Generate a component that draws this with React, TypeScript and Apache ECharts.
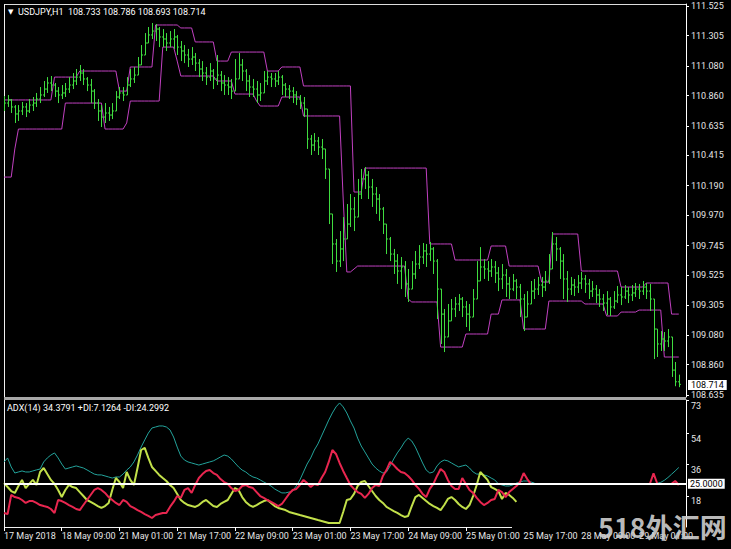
import React, { useEffect, useRef } from "react";
import * as echarts from "echarts";

const _ = null;

const SYMBOL = "USDJPY,H1";
const TIME_LABELS = [
  "17 May 2018", "18 May 09:00", "21 May 01:00", "21 May 17:00", "22 May 09:00", "23 May 01:00",
  "23 May 17:00", "24 May 09:00", "25 May 01:00", "25 May 17:00", "28 May 09:00", "29 May 01:00",
];
const BARS_PER_LABEL = 16;
const SLOTS = 190;
const FIRST_OPEN = 110.78;

const CLOSE = [
  110.804, 110.827, 110.775, 110.723, 110.745, 110.775, 110.745, 110.789, 110.804, 110.834,
  110.864, 110.908, 110.953, 110.938, 110.893, 110.864, 110.879, 110.908, 110.938, 110.968,
  110.997, 111.027, 110.983, 110.938, 110.893, 110.804, 110.745, 110.700, 110.730, 110.715,
  110.745, 110.849, 110.879, 110.864, 110.938, 110.983, 111.012, 111.087, 111.161, 111.250,
  111.310, 111.339, 111.354, 111.295, 111.280, 111.250, 111.280, 111.295, 111.220, 111.191,
  111.161, 111.131, 111.146, 111.101, 111.057, 111.027, 110.997, 111.042, 110.983, 111.012,
  110.953, 110.938, 110.923, 110.893, 110.983, 111.087, 111.042, 110.968, 110.923, 110.908,
  110.864, 110.879, 110.968, 110.997, 110.983, 110.968, 110.997, 110.938, 110.908, 110.893,
  110.864, 110.834, 110.804, 110.760, 110.537, 110.492, 110.522, 110.477, 110.463, 110.314,
  109.980, 109.757, 109.630, 109.720, 109.794, 109.905, 110.017, 109.957, 110.128, 110.240,
  110.269, 110.180, 110.128, 110.091, 110.017, 109.905, 109.794, 109.682, 109.630, 109.556,
  109.586, 109.460, 109.422, 109.534, 109.608, 109.660, 109.705, 109.682, 109.720, 109.630,
  109.422, 109.236, 109.066, 109.185, 109.274, 109.311, 109.348, 109.289, 109.236, 109.214,
  109.348, 109.482, 109.586, 109.571, 109.556, 109.586, 109.541, 109.497, 109.526, 109.460,
  109.422, 109.482, 109.437, 109.348, 109.214, 109.311, 109.407, 109.422, 109.452, 109.437,
  109.482, 109.571, 109.757, 109.720, 109.630, 109.497, 109.422, 109.452, 109.437, 109.467,
  109.497, 109.460, 109.407, 109.422, 109.378, 109.348, 109.318, 109.348, 109.289, 109.333,
  109.378, 109.363, 109.407, 109.378, 109.393, 109.422, 109.407, 109.437, 109.407, 109.348,
  109.125, 109.014, 109.051, 109.036, 109.066, 108.820, 108.733, 108.714,
];
const HIGH = [
  110.856, 110.864, 110.834, 110.789, 110.789, 110.812, 110.804, 110.834, 110.849, 110.879,
  110.923, 110.968, 110.997, 111.005, 110.953, 110.923, 110.938, 110.953, 110.997, 111.027,
  111.057, 111.087, 111.057, 110.997, 110.983, 110.908, 110.834, 110.789, 110.804, 110.775,
  110.804, 110.893, 110.923, 110.923, 110.997, 111.057, 111.072, 111.146, 111.235, 111.324,
  111.369, 111.399, 111.391, 111.369, 111.354, 111.324, 111.339, 111.354, 111.310, 111.265,
  111.235, 111.206, 111.220, 111.176, 111.131, 111.116, 111.072, 111.101, 111.057, 111.161,
  111.042, 111.012, 110.997, 110.983, 111.131, 111.176, 111.131, 111.057, 111.012, 110.983,
  110.968, 110.953, 111.042, 111.042, 111.027, 111.027, 111.042, 111.012, 110.953, 110.938,
  110.923, 110.893, 110.864, 110.849, 110.760, 110.567, 110.581, 110.552, 110.537, 110.463,
  110.314, 109.980, 109.794, 109.853, 109.957, 110.054, 110.128, 110.106, 110.240, 110.314,
  110.329, 110.299, 110.240, 110.180, 110.128, 110.032, 109.905, 109.809, 109.720, 109.682,
  109.660, 109.630, 109.571, 109.630, 109.705, 109.749, 109.764, 109.757, 109.772, 109.734,
  109.645, 109.422, 109.274, 109.311, 109.348, 109.363, 109.385, 109.363, 109.333, 109.311,
  109.422, 109.630, 109.734, 109.645, 109.630, 109.645, 109.630, 109.586, 109.608, 109.571,
  109.512, 109.534, 109.497, 109.460, 109.385, 109.407, 109.482, 109.497, 109.512, 109.512,
  109.556, 109.682, 109.846, 109.809, 109.734, 109.682, 109.556, 109.512, 109.497, 109.526,
  109.549, 109.526, 109.497, 109.482, 109.452, 109.422, 109.385, 109.407, 109.363, 109.407,
  109.445, 109.437, 109.452, 109.437, 109.452, 109.467, 109.460, 109.482, 109.467, 109.460,
  109.348, 109.125, 109.110, 109.103, 109.125, 109.066, 108.880, 108.786,
];
const LOW = [
  110.745, 110.775, 110.730, 110.656, 110.671, 110.715, 110.700, 110.730, 110.745, 110.775,
  110.804, 110.849, 110.879, 110.893, 110.849, 110.804, 110.834, 110.849, 110.879, 110.908,
  110.938, 110.968, 110.938, 110.893, 110.804, 110.760, 110.671, 110.626, 110.656, 110.671,
  110.685, 110.745, 110.834, 110.819, 110.864, 110.923, 110.953, 111.012, 111.087, 111.161,
  111.250, 111.280, 111.265, 111.220, 111.220, 111.191, 111.220, 111.206, 111.161, 111.116,
  111.101, 111.072, 111.087, 111.042, 110.997, 110.968, 110.938, 110.968, 110.908, 110.938,
  110.893, 110.864, 110.864, 110.834, 110.893, 110.983, 110.968, 110.893, 110.849, 110.849,
  110.804, 110.819, 110.879, 110.938, 110.923, 110.923, 110.938, 110.864, 110.849, 110.834,
  110.804, 110.789, 110.760, 110.700, 110.463, 110.418, 110.448, 110.418, 110.388, 110.240,
  109.905, 109.608, 109.549, 109.586, 109.630, 109.794, 109.883, 109.853, 109.957, 110.091,
  110.165, 110.091, 110.032, 109.980, 109.928, 109.831, 109.682, 109.630, 109.534, 109.460,
  109.422, 109.363, 109.326, 109.422, 109.497, 109.571, 109.608, 109.586, 109.630, 109.534,
  109.199, 109.014, 108.954, 109.066, 109.185, 109.214, 109.259, 109.214, 109.140, 109.110,
  109.214, 109.348, 109.482, 109.497, 109.482, 109.512, 109.467, 109.407, 109.422, 109.363,
  109.348, 109.407, 109.348, 109.214, 109.110, 109.214, 109.311, 109.348, 109.378, 109.363,
  109.407, 109.460, 109.571, 109.630, 109.497, 109.348, 109.326, 109.378, 109.370, 109.393,
  109.422, 109.393, 109.348, 109.363, 109.318, 109.289, 109.259, 109.229, 109.222, 109.274,
  109.318, 109.303, 109.348, 109.318, 109.333, 109.363, 109.348, 109.378, 109.348, 109.259,
  108.902, 108.917, 108.962, 108.962, 108.991, 108.769, 108.700, 108.693,
];

const UPPER = [
  110.827, 110.827, 110.827, 110.827, 110.827, 110.827, 110.827, 110.827, 110.827, 110.827,
  110.827, 110.827, 110.827, 110.827, 110.997, 110.997, 110.997, 110.997, 110.997, 110.997,
  110.997, 111.042, 111.042, 111.042, 111.042, 111.042, 111.042, 111.042, 111.042, 111.042,
  111.042, 111.042, 110.893, 110.893, 110.893, 111.072, 111.072, 111.072, 111.072, 111.072,
  111.072, 111.072, 111.384, 111.384, 111.384, 111.384, 111.384, 111.384, 111.384, 111.362,
  111.362, 111.362, 111.362, 111.258, 111.258, 111.258, 111.258, 111.258, 111.258, 111.116,
  111.116, 111.116, 111.116, 111.183, 111.183, 111.183, 111.183, 111.183, 111.183, 111.183,
  111.183, 111.183, 111.183, 111.042, 111.042, 111.042, 111.042, 111.072, 111.072, 111.072,
  111.072, 111.072, 111.072, 110.931, 110.931, 110.931, 110.931, 110.931, 110.931, 110.931,
  110.931, 110.931, 110.931, 110.931, 110.931, 110.931, 110.931, 110.143, 110.143, 110.143,
  110.321, 110.321, 110.321, 110.321, 110.321, 110.321, 110.321, 110.321, 110.321, 110.321,
  110.321, 110.321, 110.321, 110.321, 110.321, 110.321, 110.321, 110.321, 109.757, 109.757,
  109.757, 109.757, 109.757, 109.757, 109.757, 109.638, 109.638, 109.638, 109.638, 109.638,
  109.638, 109.638, 109.638, 109.638, 109.638, 109.742, 109.742, 109.742, 109.742, 109.742,
  109.593, 109.593, 109.593, 109.593, 109.593, 109.593, 109.593, 109.593, 109.593, 109.474,
  109.474, 109.474, 109.831, 109.831, 109.831, 109.831, 109.831, 109.831, 109.831, 109.831,
  109.556, 109.556, 109.556, 109.556, 109.556, 109.556, 109.556, 109.556, 109.556, 109.556,
  109.556, 109.437, 109.437, 109.437, 109.437, 109.437, 109.437, 109.437, 109.467, 109.467,
  109.467, 109.467, 109.467, 109.467, 109.467, 109.236, 109.236, 109.236,
];
const LOWER = [
  110.254, 110.254, 110.254, 110.463, 110.611, 110.611, 110.611, 110.611, 110.611, 110.611,
  110.611, 110.611, 110.611, 110.611, 110.611, 110.611, 110.611, 110.804, 110.804, 110.804,
  110.804, 110.804, 110.804, 110.804, 110.804, 110.804, 110.804, 110.804, 110.611, 110.611,
  110.611, 110.611, 110.611, 110.611, 110.656, 110.819, 110.819, 110.819, 110.819, 110.819,
  110.819, 110.819, 110.819, 110.819, 111.220, 111.220, 111.220, 111.220, 111.116, 111.005,
  111.005, 111.005, 111.005, 111.005, 111.005, 111.005, 111.005, 111.005, 111.005, 110.968,
  110.968, 110.968, 110.968, 110.968, 110.871, 110.871, 110.871, 110.871, 110.871, 110.871,
  110.819, 110.782, 110.782, 110.782, 110.782, 110.782, 110.782, 110.849, 110.849, 110.849,
  110.849, 110.849, 110.849, 110.708, 110.708, 110.708, 110.708, 110.708, 110.708, 110.708,
  110.708, 110.708, 110.708, 110.708, 110.091, 109.549, 109.549, 109.571, 109.593, 109.593,
  109.593, 109.593, 109.593, 109.593, 109.593, 109.593, 109.593, 109.593, 109.593, 109.593,
  109.593, 109.593, 109.348, 109.326, 109.326, 109.326, 109.326, 109.326, 109.326, 109.326,
  109.326, 108.991, 108.991, 108.991, 108.991, 108.991, 108.991, 108.991, 109.088, 109.088,
  109.088, 109.088, 109.088, 109.088, 109.088, 109.236, 109.236, 109.236, 109.341, 109.341,
  109.341, 109.341, 109.341, 109.341, 109.125, 109.125, 109.125, 109.125, 109.125, 109.125,
  109.125, 109.333, 109.333, 109.333, 109.333, 109.333, 109.333, 109.333, 109.333, 109.333,
  109.333, 109.311, 109.311, 109.311, 109.311, 109.311, 109.311, 109.222, 109.222, 109.222,
  109.222, 109.251, 109.251, 109.251, 109.251, 109.251, 109.266, 109.266, 109.266, 109.266,
  109.266, 109.266, 109.266, 108.917, 108.917, 108.917, 108.917, 108.917,
];

const ADX = [
  37.6, 39.9, 34.7, 31.2, 31.8, 32.4, 31.8, 31.8, 32.4, 33.0,
  33.5, 37.6, 39.9, 41.6, 42.8, 39.9, 36.4, 33.5, 34.1, 34.7,
  35.3, 34.7, 34.1, 33.0, 31.8, 30.6, 30.1, 30.1, 29.5, 28.9,
  28.3, 28.9, 28.9, 30.6, 32.9, 34.7, 37.6, 41.6, 46.2, 50.3,
  54.3, 57.2, 57.8, 58.4, 58.4, 57.8, 56.1, 52.0, 46.2, 41.0,
  38.7, 37.6, 37.0, 36.4, 35.8, 36.4, 37.0, 37.6, 38.2, 39.3,
  40.5, 41.6, 41.0, 39.3, 37.0, 34.7, 32.9, 31.8, 30.1, 28.9,
  28.3, 27.2, 26.0, 24.9, 23.7, 22.0, 20.8, 19.7, 19.7, 20.2,
  20.8, 23.7, 27.2, 31.8, 36.4, 39.9, 44.5, 48.0, 52.6, 57.2,
  61.8, 65.9, 69.4, 71.7, 69.4, 65.9, 61.3, 57.2, 51.4, 46.8,
  43.4, 39.9, 36.4, 34.1, 32.4, 31.2, 31.8, 35.3, 39.3, 42.8,
  45.7, 49.1, 51.4, 49.7, 46.2, 41.6, 37.0, 32.9, 31.2, 31.8,
  35.3, 37.6, 38.7, 38.2, 37.0, 35.8, 34.7, 35.3, 35.8, 34.1,
  31.8, 30.6, 30.6, 30.1, 29.5, 28.3, 27.2, 24.9, 24.3, 23.7,
  23.7, 24.3, 25.4, 26.0, 26.6, 26.6, 26.0, 25.4, _, _,
  _, _, _, _, _, _, _, _, _, _,
  _, _, _, _, _, _, _, _, _, _,
  _, _, _, _, _, _, _, _, _, _,
  _, 25.3, 25.8, 27.0, 28.6, 30.5, 32.4, 34.38,
];
const PLUS_DI = [
  25.4, 23.1, 20.8, 19.7, 23.7, 27.2, 22.5, 24.9, 27.2, 24.3,
  31.8, 34.1, 30.6, 27.2, 24.9, 21.4, 17.3, 21.4, 24.3, 23.1,
  22.5, 20.2, 17.9, 15.6, 14.5, 13.3, 12.1, 11.0, 12.1, 13.9,
  21.4, 28.3, 26.0, 22.5, 31.8, 27.2, 24.3, 34.1, 44.5, 45.7,
  39.9, 34.7, 32.4, 30.1, 28.3, 26.6, 24.3, 22.5, 19.1, 15.6,
  13.9, 12.7, 12.1, 11.6, 12.7, 14.5, 15.6, 13.9, 12.1, 11.6,
  13.3, 14.5, 15.6, 19.1, 22.5, 21.4, 17.3, 14.5, 12.7, 11.6,
  12.7, 13.9, 15.0, 15.6, 13.9, 12.1, 11.0, 10.4, 9.8, 8.7,
  8.1, 7.5, 6.9, 6.4, 5.8, 5.2, 4.6, 4.0, 3.5, 2.9,
  2.3, 2.3, 2.3, 2.3, 8.7, 15.6, 16.2, 19.1, 23.7, 26.0,
  26.6, 23.7, 20.8, 17.9, 15.6, 13.9, 11.6, 10.4, 9.2, 8.1,
  6.9, 5.8, 6.4, 12.1, 17.3, 18.5, 16.8, 15.0, 13.3, 12.1,
  11.0, 9.8, 12.7, 16.2, 17.3, 15.6, 13.3, 11.6, 10.4, 12.7,
  17.9, 24.3, 31.8, 29.5, 27.2, 23.1, 22.0, 20.8, 16.2, 19.7,
  18.5, 16.8, 14.5, _, _, _, _, _, _, _,
  _, _, _, _, _, _, _, _, _, _,
  _, _, _, _, _, _, _, _, _, _,
  _, _, _, _, _, _, _, _, _, _,
  _, _, _, _, _, _, _, _,
];
const MINUS_DI = [
  8.1, 7.5, 18.5, 17.3, 16.8, 15.6, 13.9, 15.0, 15.0, 13.9,
  12.7, 12.1, 11.6, 10.4, 8.1, 15.6, 15.0, 13.9, 12.7, 11.6,
  10.4, 9.8, 12.7, 15.6, 18.5, 21.4, 22.5, 21.4, 19.7, 17.3,
  15.6, 13.9, 12.7, 15.6, 14.5, 12.1, 11.0, 9.8, 8.7, 7.5,
  6.4, 5.2, 6.9, 7.5, 8.1, 8.1, 11.6, 14.5, 17.9, 16.8,
  21.4, 22.5, 19.7, 24.3, 28.3, 30.6, 32.4, 32.9, 31.2, 30.1,
  27.7, 26.0, 24.9, 22.5, 20.8, 21.4, 23.7, 24.3, 23.1, 22.5,
  20.2, 17.9, 16.8, 15.6, 14.5, 13.3, 12.1, 13.3, 16.2, 19.1,
  21.4, 22.0, 24.3, 27.2, 25.4, 23.1, 24.9, 24.3, 28.3, 31.8,
  37.6, 44.5, 42.2, 37.0, 32.4, 28.3, 24.3, 22.0, 20.2, 19.1,
  16.8, 19.1, 22.5, 24.3, 23.7, 29.5, 32.9, 37.6, 35.8, 33.5,
  31.8, 31.2, 29.5, 27.2, 24.3, 22.0, 19.1, 17.3, 22.0, 24.9,
  29.5, 33.5, 31.8, 27.2, 23.7, 22.0, 22.0, 28.3, 24.9, 21.4,
  19.7, 16.8, 14.5, 12.7, 13.9, 15.6, 16.2, 21.4, 20.2, 17.3,
  20.2, 22.0, 23.7, 26.0, 31.2, 27.7, 24.9, _, _, _,
  _, _, _, _, _, _, _, _, _, _,
  _, _, _, _, _, _, _, _, _, _,
  _, _, _, _, _, _, _, _, _, 25.0,
  31.0, 25.3, _, _, _, 25.0, 26.6, 24.3,
];

const PRICE_TICKS = [
  111.525, 111.305, 111.08, 110.86, 110.635, 110.415, 110.19,
  109.97, 109.745, 109.525, 109.305, 109.08, 108.86, 108.635,
];
const PRICE_MIN = 108.62;
const PRICE_MAX = 111.54;
const ADX_TICKS = [18, 36, 54, 73];
const ADX_MAX = 73.4;
const ADX_LEVEL = 25;
const ADX_TITLE = "ADX(14) 34.3791 +DI:7.1264 -DI:24.2992";
const WATERMARK = "518外汇网";

const FONT = "Roboto, 'DejaVu Sans', sans-serif";
const TXT = "#e6e6e6";
const BAR_COLOR = "#3fdc3f";
const CHANNEL_COLOR = "#c040c0";

export default function App() {
  const ref = useRef<HTMLDivElement>(null);

  useEffect(() => {
    if (!ref.current) return;
    const chart = echarts.init(ref.current, undefined, { renderer: "svg" });
    const cats = Array.from({ length: SLOTS }, (_v, i) => String(i));
    const n = CLOSE.length;
    const ohlc = CLOSE.map((c, i) => [i, i === 0 ? FIRST_OPEN : CLOSE[i - 1], c, LOW[i], HIGH[i]]);
    const last = ohlc[n - 1];
    const header = `${SYMBOL}  ${last[1].toFixed(3)} ${last[4].toFixed(3)} ${last[3].toFixed(3)} ${last[2].toFixed(3)}`;

    const labelIdx = (idx: number) => idx % BARS_PER_LABEL === 0;
    const tickIdx = (idx: number) => idx % BARS_PER_LABEL === 0 && idx <= 8 * BARS_PER_LABEL;

    const option: any = {
      animation: false,
      backgroundColor: "#000",
      textStyle: { fontFamily: FONT },
      grid: [
        { left: 4, top: 4, width: 682, height: 393, show: false },
        { left: 4, top: 400, width: 682, height: 127, show: false },
      ],
      xAxis: [
        {
          type: "category", gridIndex: 0, data: cats, boundaryGap: false, show: false,
        },
        {
          type: "category", gridIndex: 1, data: cats, boundaryGap: false,
          axisLine: { show: false },
          axisTick: { show: true, interval: (i: number) => tickIdx(i), length: 4, lineStyle: { color: "#fff" } },
          axisLabel: {
            show: true,
            interval: (i: number) => labelIdx(i),
            formatter: (v: string) => TIME_LABELS[Number(v) / BARS_PER_LABEL] ?? "",
            align: "left",
            color: TXT,
            fontSize: 9,
            fontFamily: FONT,
            margin: 4,
          },
          splitLine: { show: false },
        },
      ],
      yAxis: [
        {
          type: "value", gridIndex: 0, position: "right", min: PRICE_MIN, max: PRICE_MAX,
          axisLine: { show: true, lineStyle: { color: "#fff", width: 1 } },
          axisTick: { show: true, customValues: PRICE_TICKS, length: 3, lineStyle: { color: "#fff" } },
          axisLabel: {
            show: true, customValues: PRICE_TICKS, formatter: (v: number) => v.toFixed(3),
            color: TXT, fontSize: 9, fontFamily: FONT, margin: 5,
          },
          splitLine: { show: false },
        },
        {
          type: "value", gridIndex: 1, position: "right", min: 0, max: ADX_MAX,
          axisLine: { show: true, lineStyle: { color: "#fff", width: 1 } },
          axisTick: { show: true, customValues: ADX_TICKS, length: 3, lineStyle: { color: "#fff" } },
          axisLabel: {
            show: true, customValues: ADX_TICKS, formatter: (v: number) => String(v),
            color: TXT, fontSize: 9, fontFamily: FONT, margin: 5, verticalAlign: "top", padding: [1, 0, 0, 0],
          },
          splitLine: { show: false },
        },
      ],
      series: [
        {
          type: "custom",
          xAxisIndex: 0, yAxisIndex: 0,
          data: ohlc,
          encode: { x: 0, y: [1, 2, 3, 4] },
          clip: true,
          renderItem: (_p: any, api: any) => {
            const i = api.value(0);
            const o = api.coord([i, api.value(1)]);
            const c = api.coord([i, api.value(2)]);
            const l = api.coord([i, api.value(3)]);
            const h = api.coord([i, api.value(4)]);
            const x = Math.round(h[0]) + 0.5;
            const st = { stroke: BAR_COLOR, lineWidth: 1 };
            return {
              type: "group",
              children: [
                { type: "line", shape: { x1: x, y1: h[1], x2: x, y2: l[1] }, style: st },
                { type: "line", shape: { x1: x - 1.5, y1: o[1], x2: x, y2: o[1] }, style: st },
                { type: "line", shape: { x1: x, y1: c[1], x2: x + 1.5, y2: c[1] }, style: st },
              ],
            };
          },
          z: 3,
        },
        {
          type: "line", xAxisIndex: 0, yAxisIndex: 0, data: UPPER, symbol: "none",
          lineStyle: { color: CHANNEL_COLOR, width: 1 }, z: 2,
          markLine: {
            silent: true, symbol: ["none", "none"],
            data: [{ yAxis: CLOSE[n - 1] }],
            lineStyle: { color: "rgba(0,0,0,0)", width: 1, type: "solid" },
            label: {
              show: true, position: "end", distance: 2, formatter: CLOSE[n - 1].toFixed(3),
              backgroundColor: "#fff", color: "#000", fontSize: 9, fontFamily: FONT, padding: [1, 3, 0, 3],
            },
          },
        },
        {
          type: "line", xAxisIndex: 0, yAxisIndex: 0, data: LOWER, symbol: "none",
          lineStyle: { color: CHANNEL_COLOR, width: 1 }, z: 2,
        },
        {
          type: "line", xAxisIndex: 1, yAxisIndex: 1, data: ADX, symbol: "none",
          lineStyle: { color: "#23a39b", width: 1 }, z: 2,
        },
        {
          type: "line", xAxisIndex: 1, yAxisIndex: 1, data: PLUS_DI, symbol: "none",
          lineStyle: { color: "#c2e04a", width: 2 }, z: 3,
        },
        {
          type: "line", xAxisIndex: 1, yAxisIndex: 1, data: MINUS_DI, symbol: "none",
          lineStyle: { color: "#e8264f", width: 2 }, z: 4,
          markLine: {
            silent: true, symbol: ["none", "none"],
            data: [{ yAxis: ADX_LEVEL }],
            lineStyle: { color: "#fff", width: 2, type: "solid" },
            label: {
              position: "end", distance: 2, formatter: ADX_LEVEL.toFixed(4),
              backgroundColor: "#fff", color: "#000", fontSize: 9, fontFamily: FONT, padding: [1, 2, 0, 2],
            },
            z: 10,
          },
        },
      ],
      graphic: [
        { type: "line", shape: { x1: 4, y1: 4.5, x2: 686, y2: 4.5 }, style: { stroke: "#dcdcdc", lineWidth: 1 }, silent: true },
        { type: "line", shape: { x1: 4.5, y1: 4, x2: 4.5, y2: 527 }, style: { stroke: "#f0f0f0", lineWidth: 1 }, silent: true },
        { type: "rect", shape: { x: 4, y: 397, width: 682, height: 3 }, style: { fill: "#a8a8a8" }, silent: true },
        { type: "line", shape: { x1: 4, y1: 527.5, x2: 512, y2: 527.5 }, style: { stroke: "#f0f0f0", lineWidth: 1 }, silent: true },
        {
          type: "text", x: 8, y: 12,
          style: { text: "\u25BC", fill: "#fff", font: `7px ${FONT}`, verticalAlign: "middle", textVerticalAlign: "middle" },
          silent: true,
        },
        {
          type: "text", x: 18, y: 12,
          style: { text: header, fill: "#fff", font: `9px ${FONT}`, verticalAlign: "middle", textVerticalAlign: "middle" },
          silent: true,
        },
        {
          type: "text", x: 7, y: 408,
          style: { text: ADX_TITLE, fill: "#fff", font: `9px ${FONT}`, verticalAlign: "middle", textVerticalAlign: "middle" },
          silent: true,
        },
        {
          type: "text", x: 598, y: 526,
          style: {
            text: WATERMARK, fill: "rgba(205,205,205,0.92)",
            font: `bold 27px 'Noto Sans CJK SC', sans-serif`, verticalAlign: "middle", textVerticalAlign: "middle",
          },
          silent: true, z: 100,
        },
      ],
    };

    chart.setOption(option);
    return () => chart.dispose();
  }, []);

  return (
    <div
      ref={ref}
      style={{ position: "fixed", left: 0, top: 0, width: 731, height: 549, background: "#000" }}
    />
  );
}
